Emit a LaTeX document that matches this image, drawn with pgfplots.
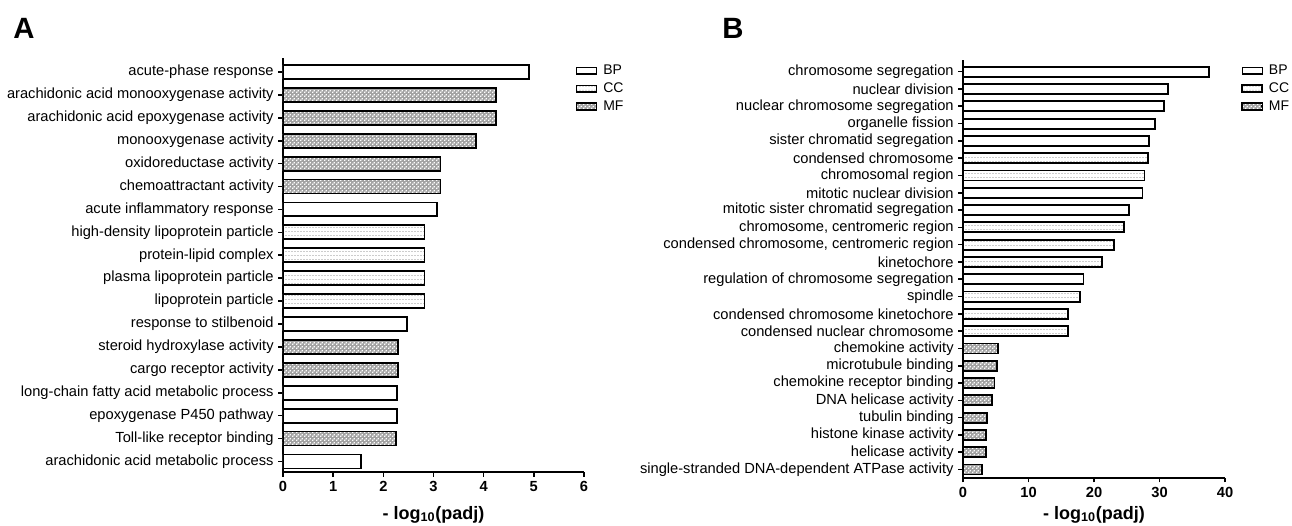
\documentclass[border=0pt]{standalone}
\usepackage{fontspec}
\setmainfont{Liberation Sans}
\usepackage{pgfplots}
\pgfplotsset{compat=1.18}
\usetikzlibrary{patterns}

% dotted rows for CC, light speckle for MF
\pgfdeclarepatternformonly{ccdots}{\pgfqpoint{0pt}{0pt}}{\pgfqpoint{2pt}{2.8pt}}{\pgfqpoint{2pt}{2.8pt}}{%
  \pgfpathrectangle{\pgfqpoint{0.5pt}{1pt}}{\pgfqpoint{0.6pt}{0.6pt}}\pgfusepath{fill}}
\pgfdeclarepatternformonly{mfdots}{\pgfqpoint{0pt}{0pt}}{\pgfqpoint{2.6pt}{2.6pt}}{\pgfqpoint{2.6pt}{2.6pt}}{%
  \pgfpathrectangle{\pgfqpoint{0.15pt}{0.15pt}}{\pgfqpoint{1.05pt}{1.05pt}}%
  \pgfpathrectangle{\pgfqpoint{1.45pt}{1.45pt}}{\pgfqpoint{1.05pt}{1.05pt}}\pgfusepath{fill}}

\pgfplotsset{
  bp/.style={xbar, bar shift=0pt, draw=black, line width=1.4pt, fill=white},
  cc/.style={xbar, bar shift=0pt, draw=black, line width=1.4pt,
    preaction={fill=white}, pattern=ccdots, pattern color=black!55},
  mf/.style={xbar, bar shift=0pt, draw=black, line width=1.4pt,
    preaction={fill=black!36}, pattern=mfdots, pattern color=white},
  panel/.style={
    anchor=south west, scale only axis,
    xmin=0,
    axis x line*=bottom, axis y line*=left,
    axis line style={line width=1.5pt},
    tick align=outside, major tick length=3.5pt,
    tick style={line width=1.2pt, black},
    xtick pos=bottom, ytick pos=left,
    /pgf/number format/assume math mode=true,
    xticklabel style={font=\bfseries\fontsize{11}{13}\selectfont},
    yticklabel style={font=\fontsize{11}{13}\selectfont},
    xlabel={\textbf{- log\textsubscript{10}(padj)}},
    xlabel style={font=\bfseries\fontsize{13.5}{15}\selectfont, at={(axis description cs:0.5,0)}, anchor=base},
    legend style={draw=none, fill=none, inner sep=0pt, anchor=north west,
      font=\fontsize{10.5}{11}\selectfont, row sep=0.6pt,
      nodes={inner xsep=4.5pt}},
    legend cell align=left,
    legend image code/.code={\draw[##1, line width=1.1pt] (0pt,-2.4pt) rectangle (15pt,2.4pt);},
  },
}

\begin{document}
\begin{tikzpicture}
\path[use as bounding box] (0,0) rectangle (969pt,393.75pt);

\node[anchor=base west, inner sep=0pt, font=\bfseries\fontsize{22}{24}\selectfont] at (9.75pt,364.5pt) {A};
\node[anchor=base west, inner sep=0pt, font=\bfseries\fontsize{22}{24}\selectfont] at (541.5pt,364.5pt) {B};

% panel A: 18 terms, y = 17 at the top
\begin{axis}[panel,
  at={(212.25pt,39.75pt)}, width=225.75pt, height=310.5pt,
  xmax=6, xtick={0,1,2,3,4,5,6},
  ymin=-0.46, ymax=17.61, ytick={0,...,17},
  yticklabels={arachidonic acid metabolic process, Toll-like receptor binding,
    epoxygenase P450 pathway, long-chain fatty acid metabolic process,
    cargo receptor activity, steroid hydroxylase activity, response to stilbenoid,
    lipoprotein particle, plasma lipoprotein particle, protein-lipid complex,
    high-density lipoprotein particle, acute inflammatory response,
    chemoattractant activity, oxidoreductase activity, monooxygenase activity,
    arachidonic acid epoxygenase activity, arachidonic acid monooxygenase activity,
    acute-phase response},
  xlabel style={yshift=-35.25pt},
  legend style={at={(axis description cs:0.972,0.99)}},
  bar width=0.61,
]
\addplot[bp] coordinates {(4.90,17) (3.07,11) (2.48,6) (2.28,3) (2.28,2) (1.55,0)};
\addlegendentry{BP}
\addplot[cc] coordinates {(2.82,10) (2.82,9) (2.82,8) (2.82,7)};
\addlegendentry{CC}
\addplot[mf] coordinates {(4.25,16) (4.25,15) (3.85,14) (3.14,13) (3.14,12) (2.29,5) (2.29,4) (2.25,1)};
\addlegendentry{MF}
\end{axis}

% panel B: 24 terms, y = 23 at the top
\begin{axis}[panel,
  at={(722.25pt,35.5pt)}, width=196.5pt, height=313.3pt,
  xmax=40, xtick={0,10,20,30,40},
  ymin=-0.47, ymax=23.68, ytick={0,...,23},
  yticklabels={single-stranded DNA-dependent ATPase activity, helicase activity,
    histone kinase activity, tubulin binding, DNA helicase activity,
    chemokine receptor binding, microtubule binding, chemokine activity,
    condensed nuclear chromosome, condensed chromosome kinetochore, spindle,
    regulation of chromosome segregation, kinetochore,
    {condensed chromosome, centromeric region}, {chromosome, centromeric region},
    mitotic sister chromatid segregation, mitotic nuclear division,
    chromosomal region, condensed chromosome, sister chromatid segregation,
    organelle fission, nuclear chromosome segregation, nuclear division,
    chromosome segregation},
  xlabel style={yshift=-31pt},
  legend style={at={(axis description cs:1.062,0.995)}},
  bar width=0.58,
]
\addplot[bp] coordinates {(37.6,23) (31.25,22) (30.7,21) (29.3,20) (28.4,19)
  (27.4,16) (25.4,15) (18.4,11)};
\addlegendentry{BP}
\addplot[cc] coordinates {(28.3,18) (27.7,17) (24.6,14) (23.1,13) (21.2,12)
  (17.8,10) (16.0,9) (16.0,8)};
\addlegendentry{CC}
\addplot[mf] coordinates {(5.4,7) (5.25,6) (4.8,5) (4.4,4) (3.7,3) (3.55,2)
  (3.45,1) (2.95,0)};
\addlegendentry{MF}
\end{axis}
\end{tikzpicture}
\end{document}
